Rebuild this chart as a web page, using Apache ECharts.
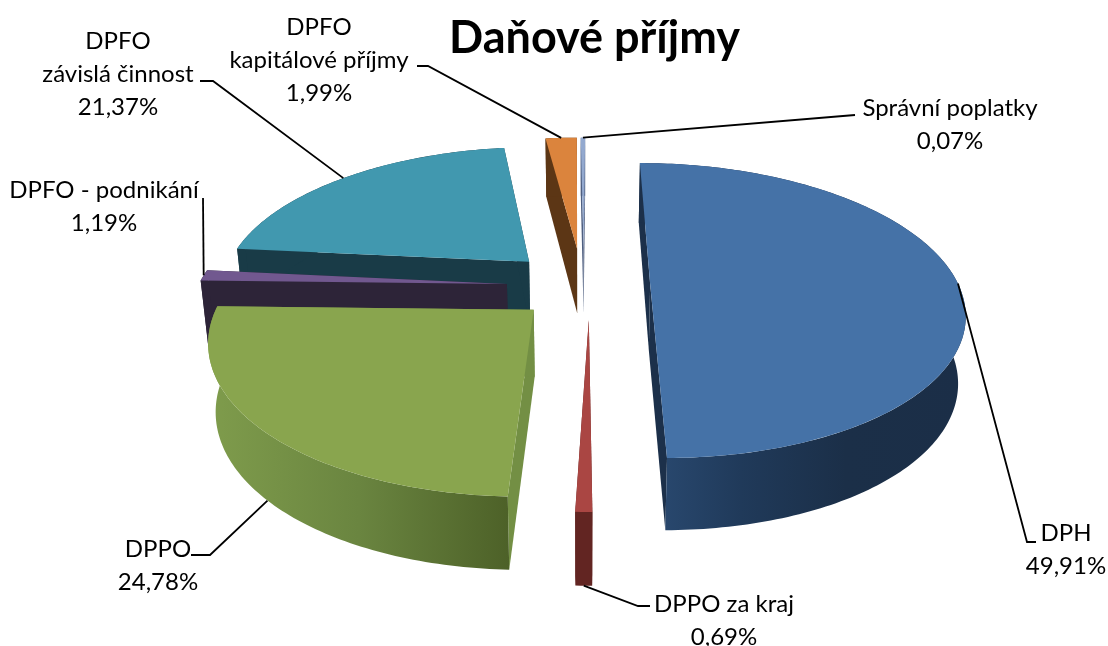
<!DOCTYPE html>
<html><head><meta charset="utf-8">
<style>html,body{margin:0;padding:0;background:#fff}#c{width:1108px;height:646px}</style>
<script src="https://cdn.jsdelivr.net/npm/echarts@6/dist/echarts.min.js"></script>
</head><body><div id="c"></div>
<script>
// ---- data ----
const categories = ['DPH','DPPO za kraj','DPPO','DPFO - podnikání','DPFO\nzávislá činnost','DPFO\nkapitálové příjmy','Správní poplatky'];
const shares = [49.91,0.69,24.78,1.19,21.37,1.99,0.07];
const chartTitle = 'Daňové příjmy';
// ---- styles ----
const topColors   = ['#4572A7','#AA4643','#89A54E','#71588F','#4198AF','#DB843D','#93A9CF'];
const radialColors= ['#1C304A','#622522','#738F44','#2D2438','#193B47','#5C3615','#4F5F80'];
const rimStops = [
  [[0,'#28476D'],[0.25,'#203A5A'],[0.6,'#1B2F48'],[1,'#1B2E47']],
  [[0,'#622522'],[1,'#622522']],
  [[0,'#7F9C4C'],[0.5,'#6A8540'],[1,'#4D6128']],
  [[0,'#2D2438'],[1,'#2D2438']],
  [[0,'#193B47'],[1,'#193B47']],
  [[0,'#5C3615'],[1,'#5C3615']],
  [[0,'#4F5F80'],[1,'#4F5F80']]
];
// ---- 3D projection layout ----
const explodeU = [0.218,0.018,-0.155,-0.247,-0.18,-0.02,0.002];
const explodeV = [0,-0.241,-0.175,0,0.16,0.258,0.258];
const drawOrder = [4,3,2,5,6,0,1];
const startDeg = 0, minSpanDeg = 1;
const VP = {x:583,y:284,a:308,b:142.7,k:0.18,h0:66,hs:-6.2,bottomScale:0.98};
const labelCenters = [[1066,550],[724,621],[158,566],[104,207],[118,74],[319,60],[950,125]];
const leaderElbows = [
  [[1036,542],[1027,542]],
  [[650,606],[638,606]],
  [[191,555],[210,555]],
  [[203,198]],
  [[200,81],[213,81]],
  [[417,66],[428,66]],
  [[855,115]]
];
const leaderLevels = [0,1,1,0,0,0,0];

const rad = d => d*Math.PI/180;
function angles(i){
  let s = startDeg; for(let j=0;j<i;j++) s += shares[j]*3.6;
  let span = shares[i]*3.6, mid = s+span/2;
  span = Math.max(span,minSpanDeg);
  return [mid-span/2, mid+span/2, mid];
}
function proj(i,r,deg,level){
  const u = r*Math.sin(rad(deg))+explodeU[i], v = r*Math.cos(rad(deg))+explodeV[i];
  const w = 1+VP.k*v;
  let X = VP.a*u/w, Y = VP.y - VP.b*v/w;
  if(level){ X*=VP.bottomScale; Y += VP.h0+VP.hs*v; }
  return [VP.x+X, Y];
}
function rimPts(i,a0,a1,level){
  const n = Math.max(2,Math.ceil((a1-a0)/1)), p=[];
  for(let t=0;t<=n;t++) p.push(proj(i,1,a0+(a1-a0)*t/n,level));
  return p;
}
function sliceItem(params,api){
  const i = api.value(0);
  const [a0,a1] = angles(i);
  const poly = (pts,fill)=>({type:'polygon',shape:{points:pts},style:{fill:fill,stroke:null}});
  const rimFill = {type:'linear',x:0,y:0,x2:1,y2:0,colorStops:rimStops[i].map(s=>({offset:s[0],color:s[1]}))};
  const top = rimPts(i,a0,a1,0), bot = rimPts(i,a0,a1,1);
  const cTop = proj(i,0,0,0), cBot = proj(i,0,0,1);
  const children = [];
  children.push(poly([cTop,top[0],bot[0],cBot],radialColors[i]));
  children.push(poly([cTop,top[top.length-1],bot[bot.length-1],cBot],radialColors[i]));
  // rim strip: gradient only over the part that faces the viewer
  const fA0=Math.max(a0,80), fA1=Math.min(a1,280);
  if(a0<80){
    const e=Math.min(a1,80), t3=rimPts(i,a0,e,0), b3=rimPts(i,a0,e,1);
    children.push(poly(t3.concat(b3.reverse()),radialColors[i]));
  }
  if(fA1>fA0){
    const t2=rimPts(i,fA0,fA1,0), b2=rimPts(i,fA0,fA1,1);
    children.push(poly(t2.concat(b2.reverse()),rimFill));
  }
  if(a1>280){
    const s=Math.max(a0,280), t4=rimPts(i,s,a1,0), b4=rimPts(i,s,a1,1);
    children.push(poly(t4.concat(b4.reverse()),radialColors[i]));
  }
  children.push(poly([cTop].concat(top),topColors[i]));
  return {type:'group',children:children};
}
function labelItem(params,api){
  const i = api.value(0);
  const mid = angles(i)[2];
  const anchor = proj(i,1,mid,leaderLevels[i]);
  const pct = shares[i].toFixed(2).replace('.',',')+'%';
  return {type:'group',children:[
    {type:'polyline',shape:{points:leaderElbows[i].concat([anchor])},style:{stroke:'#000',lineWidth:1.8,fill:null}},
    {type:'text',style:{text:categories[i]+'\n'+pct,x:labelCenters[i][0],y:labelCenters[i][1],
      align:'center',verticalAlign:'middle',fill:'#000',fontFamily:'Lato',fontSize:24,lineHeight:33}}
  ]};
}
const chart = echarts.init(document.getElementById('c'),null,{renderer:'canvas'});
chart.setOption({
  animation:false,
  backgroundColor:'#fff',
  title:{text:chartTitle,left:444,top:11,textStyle:{fontFamily:'Lato',fontWeight:'bold',fontSize:45,color:'#000'}},
  series:[
    {type:'custom',coordinateSystem:'none',renderItem:sliceItem,silent:true,z:2,
     data:drawOrder.map(i=>[i,shares[i]])},
    {type:'custom',coordinateSystem:'none',renderItem:labelItem,silent:true,z:3,
     data:categories.map((c,i)=>[i,shares[i]])}
  ]
});
</script></body></html>
